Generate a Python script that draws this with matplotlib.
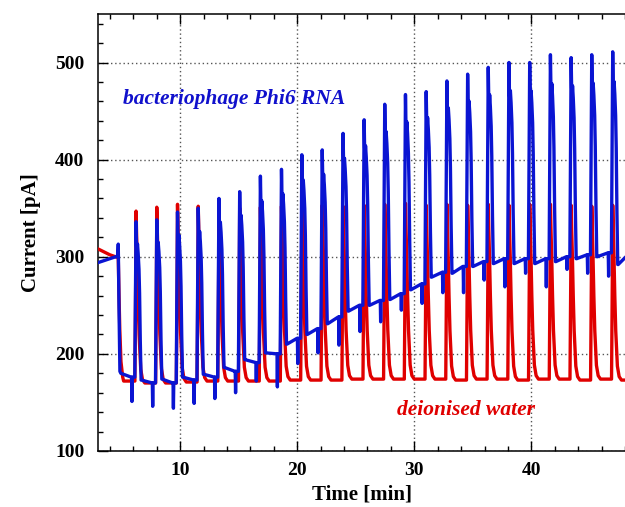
import matplotlib
matplotlib.use("Agg")
import matplotlib.pyplot as plt
import numpy as np
from matplotlib.ticker import MultipleLocator

# pulse centres [min] and peak currents [pA]
pulse_t = [6.24, 8.01, 9.78, 11.55, 13.32, 15.09, 16.86, 18.66, 20.40, 22.14, 23.92, 25.72,
           27.48, 29.25, 31.02, 32.79, 34.56, 36.32, 38.09, 39.86, 41.63, 43.40, 45.16, 46.95]
rna_peak = [336, 338, 346, 350, 360, 367, 383, 390, 405, 410, 427, 441,
            457, 467, 470, 481, 488, 495, 500, 500, 508, 505, 508, 511]
rna_dip = [151, 146, 144, 149, 154, 160, 172, 166, 190, 201, 209, 223,
           233, 245, 252, 263, 263, 276, 269, 283, 269, 287, 283, 280]
water_peak = [347, 351, 354, 352, 349, 350, 351, 352, 352, 353, 352, 353,
              354, 355, 353, 354, 353, 354, 353, 354, 354, 353, 352, 353]

# baseline between pulses (start / end of each gap), gap 0 is before the first pulse
rna_gap_start = [180, 173, 174, 176, 179, 186, 194, 201, 210, 220, 231, 244, 250,
                 256, 266, 279, 283, 290, 293, 293, 293, 295, 298, 300, 292]
rna_gap_end = [176, 170, 170, 173, 176, 182, 191, 200, 216, 226, 238, 250, 255,
               262, 272, 284, 290, 295, 298, 298, 298, 300, 302, 304, 299]
water_gap = [172, 170, 170, 171, 172, 172, 172, 172, 173, 173, 173, 174, 174,
             174, 174, 174, 173, 174, 174, 173, 174, 174, 173, 174, 173]

# start of the record, before the first drop
rna_lead_t = [3.0, 3.5, 4.0, 4.5, 4.68, 4.72, 4.78, 4.86]
rna_lead_i = [294, 296, 298, 300, 301, 313, 250, 182]
water_lead_t = [3.0, 3.5, 4.0, 4.5, 4.72, 4.78, 4.85, 4.95, 5.1]
water_lead_i = [308, 305, 302, 300, 299, 262, 225, 192, 176]

# pulse shapes: offset from peak [min], fraction of height above baseline
rna_shape_dt = [-0.11, -0.03, 0.0, 0.04, 0.08, 0.12, 0.18, 0.25, 0.30, 0.36, 0.43]
rna_shape_f = [0.0, 0.75, 1.0, 0.85, 0.80, 0.86, 0.80, 0.70, 0.55, 0.25, 0.0]
water_shape_dt = [-0.10, -0.03, 0.0, 0.05, 0.11, 0.18, 0.26, 0.40, 0.55, 0.75]
water_shape_f = [0.0, 0.60, 1.0, 0.85, 0.70, 0.48, 0.28, 0.08, 0.02, 0.0]

t_end = 48.0


def build(lead_t, lead_i, gap_a, gap_b, peaks, dt, fr, dips=None):
    t = list(lead_t)
    y = list(lead_i)
    n = len(pulse_t)
    for k in range(n + 1):
        g0 = lead_t[-1] + 0.08 if k == 0 else pulse_t[k - 1] + dt[-1] + 0.04
        if k < n:
            g1 = pulse_t[k] + dt[0] - (0.30 if dips else 0.02)
        else:
            g1 = t_end
        t += [g0, g1]
        y += [gap_a[k], gap_b[k]]
        if k == n:
            break
        tp = pulse_t[k]
        if dips:
            # short switching spike just before the pulse
            t += [tp - 0.38, tp - 0.35, tp - 0.32]
            y += [gap_b[k], dips[k], gap_b[k]]
        b0 = gap_b[k]
        b1 = gap_a[k + 1]
        for d, f in zip(dt, fr):
            b = b0 if d <= 0 else b1
            t.append(tp + d)
            y.append(b + f * (peaks[k] - b))
    return np.array(t), np.array(y)


t_w, i_w = build(water_lead_t, water_lead_i, water_gap, water_gap, water_peak,
                 water_shape_dt, water_shape_f)
t_r, i_r = build(rna_lead_t, rna_lead_i, rna_gap_start, rna_gap_end, rna_peak,
                 rna_shape_dt, rna_shape_f, dips=rna_dip)

plt.rcParams['font.family'] = ['Liberation Serif', 'DejaVu Serif']
plt.rcParams['font.weight'] = 'bold'

fig = plt.figure(figsize=(6.25, 5.07), dpi=100)
ax = fig.add_axes([0.157, 0.1105, 0.843, 0.862])

red = '#e00000'
blue = '#0a14d2'
ax.plot(t_w, i_w, color=red, lw=2.4, zorder=3, solid_joinstyle='round')
ax.plot(t_r, i_r, color=blue, lw=2.4, zorder=4, solid_joinstyle='round')

ax.set_xlim(3, 48)
ax.set_ylim(100, 550)
ax.xaxis.set_major_locator(MultipleLocator(10))
ax.xaxis.set_minor_locator(MultipleLocator(2))
ax.yaxis.set_major_locator(MultipleLocator(100))
ax.yaxis.set_minor_locator(MultipleLocator(20))
ax.set_yticks([100, 200, 300, 400, 500])

ax.tick_params(which='both', direction='in', top=True, right=False, width=1.0)
ax.tick_params(which='major', length=7, labelsize=14)
ax.tick_params(which='minor', length=3.5)
ax.tick_params(axis='x', pad=8)
ax.tick_params(axis='y', pad=10)

ax.spines['right'].set_visible(False)
for s in ['left', 'top', 'bottom']:
    ax.spines[s].set_linewidth(1.1)

ax.grid(True, which='major', color='#555555', lw=1.0, linestyle=(0, (1, 2)))
ax.set_axisbelow(True)

ax.set_xlabel('Time [min]', fontsize=15, fontweight='bold', labelpad=4)
ax.set_ylabel('Current [pA]', fontsize=15, fontweight='bold', labelpad=10)

ax.text(5.1, 462, 'bacteriophage Phi6 RNA', color='#1010cc', fontsize=15.5,
        fontweight='bold', fontstyle='italic', va='center', ha='left')
ax.text(28.5, 142, 'deionised water', color=red, fontsize=15.5,
        fontweight='bold', fontstyle='italic', va='center', ha='left')

fig.savefig('out.png', dpi=100)
